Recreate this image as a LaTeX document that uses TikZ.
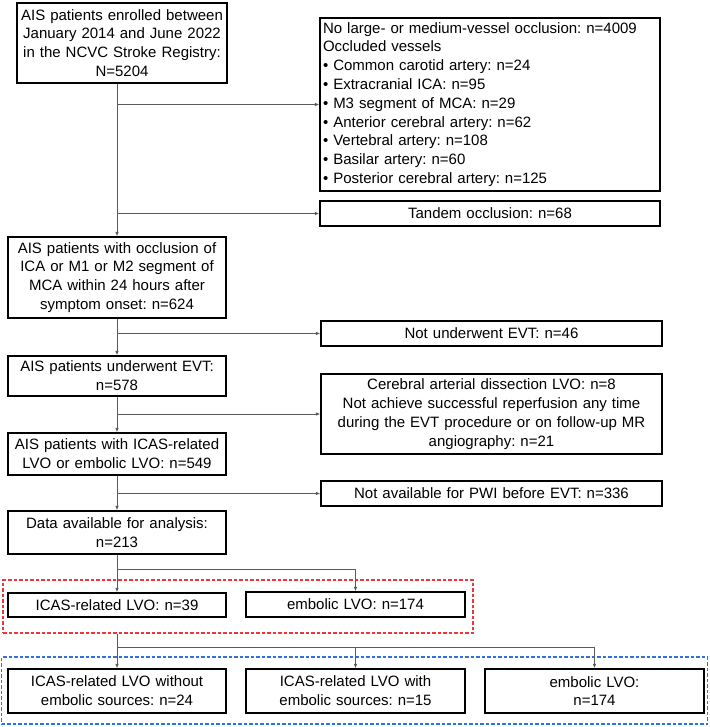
\documentclass[tikz,border=0pt]{standalone}
\usepackage{fontspec}
\setmainfont{Liberation Sans}
\frenchspacing
\usetikzlibrary{arrows.meta}
\definecolor{linegray}{HTML}{5A5A5A}
\definecolor{grpred}{HTML}{F0343C}
\definecolor{grpblue}{HTML}{3070E0}
\tikzset{
	flowbox/.style={draw=black,line width=1.2pt,inner sep=0pt,align=center,font=\fontsize{15}{18.8}\selectfont},
	flowline/.style={draw=linegray,line width=0.9pt},
	flowarrow/.style={flowline,-{Latex[length=4.5pt,width=3.5pt]}},
	grpbox/.style={dash pattern=on 3.5pt off 2pt,line width=1.3pt,inner sep=0pt}
}
\begin{document}
\begin{tikzpicture}[x=1pt,y=-1pt]
	\useasboundingbox (0,0) rectangle (709,727);
	% the left column
	\node[flowbox,minimum width=210pt,minimum height=80pt,text width=204pt] (enroll) at (122,43) {AIS patients enrolled between\\January 2014 and June 2022\\in the NCVC Stroke Registry:\\N=5204};
	\node[flowbox,minimum width=218pt,minimum height=81pt,text width=212pt] (occl) at (117,277.5) {AIS patients with occlusion of\\ICA or M1 or M2 segment of\\MCA within 24 hours after\\symptom onset: n=624};
	\node[flowbox,minimum width=218pt,minimum height=40pt,text width=212pt] (evt) at (117,376) {AIS patients underwent EVT:\\n=578};
	\node[flowbox,minimum width=218pt,minimum height=42pt,text width=212pt] (icaslvo) at (117,454) {AIS patients with ICAS-related\\LVO or embolic LVO: n=549};
	\node[flowbox,minimum width=218pt,minimum height=43pt,text width=212pt] (data) at (117,532.5) {Data available for analysis:\\n=213};
	%% the exclusions
	\node[flowbox,align=left,inner xsep=3pt,minimum width=340pt,minimum height=173pt,text width=334pt] (excl) at (490,104.5) {No large- or medium-vessel occlusion: n=4009\\Occluded vessels\\• Common carotid artery: n=24\\• Extracranial ICA: n=95\\• M3 segment of MCA: n=29\\• Anterior cerebral artery: n=62\\• Vertebral artery: n=108\\• Basilar artery: n=60\\• Posterior cerebral artery: n=125};
	\node[flowbox,minimum width=340pt,minimum height=25pt,text width=334pt] (tandem) at (490,213.5) {Tandem occlusion: n=68};
	\node[flowbox,minimum width=341pt,minimum height=25pt,text width=335pt] (noevt) at (491.5,333.5) {Not underwent EVT: n=46};
	\node[flowbox,minimum width=341pt,minimum height=80pt,text width=335pt] (dissect) at (491.5,414) {Cerebral arterial dissection LVO: n=8\\Not achieve successful reperfusion any time\\during the EVT procedure or on follow-up MR\\angiography: n=21};
	\node[flowbox,minimum width=341pt,minimum height=25pt,text width=335pt] (nopwi) at (491.5,493.5) {Not available for PWI before EVT: n=336};
	%% the groups
	\node[flowbox,minimum width=218pt,minimum height=24pt,text width=212pt] (icas) at (117,605) {ICAS-related LVO: n=39};
	\node[flowbox,minimum width=219pt,minimum height=25pt,text width=213pt] (embo) at (355.5,604.5) {embolic LVO: n=174};
	\node[grpbox,draw=grpred,minimum width=470pt,minimum height=53pt] (grpa) at (238,606.5) {};
	\node[flowbox,minimum width=218pt,minimum height=44pt,text width=212pt] (sub1) at (117,691) {ICAS-related LVO without\\embolic sources: n=24};
	\node[flowbox,minimum width=219pt,minimum height=44pt,text width=213pt] (sub2) at (355.5,691) {ICAS-related LVO with\\embolic sources: n=15};
	\node[flowbox,minimum width=219pt,minimum height=44pt,text width=213pt] (sub3) at (594.5,691) {embolic LVO:\\n=174};
	\node[grpbox,draw=grpblue,minimum width=706pt,minimum height=67pt] (grpb) at (354.5,690.5) {};
	% the connectors
	\draw[flowarrow] (enroll.south -| occl.north) -- (occl.north);
	\draw[flowarrow] (occl.north |- excl.west) -- (excl.west);
	\draw[flowarrow] (occl.north |- tandem.west) -- (tandem.west);
	\draw[flowarrow] (occl.south) -- (evt.north);
	\draw[flowarrow] (occl.south |- noevt.west) -- (noevt.west);
	\draw[flowarrow] (evt.south) -- (icaslvo.north);
	\draw[flowarrow] (evt.south |- dissect.west) -- (dissect.west);
	\draw[flowarrow] (icaslvo.south) -- (data.north);
	\draw[flowarrow] (icaslvo.south |- nopwi.west) -- (nopwi.west);
	\draw[flowline] (data.south) -- ++(0,15) coordinate (split1);
	\draw[flowarrow] (split1) -- (icas.north);
	\draw[flowarrow] (split1) -| (embo.north);
	\draw[flowline] (grpa.south -| icas.south) -- ++(0,14) coordinate (split2);
	\draw[flowarrow] (split2) -- (sub1.north);
	\draw[flowarrow] (split2) -| (sub2.north);
	\draw[flowarrow] (split2) -| (sub3.north);
\end{tikzpicture}
\end{document}
